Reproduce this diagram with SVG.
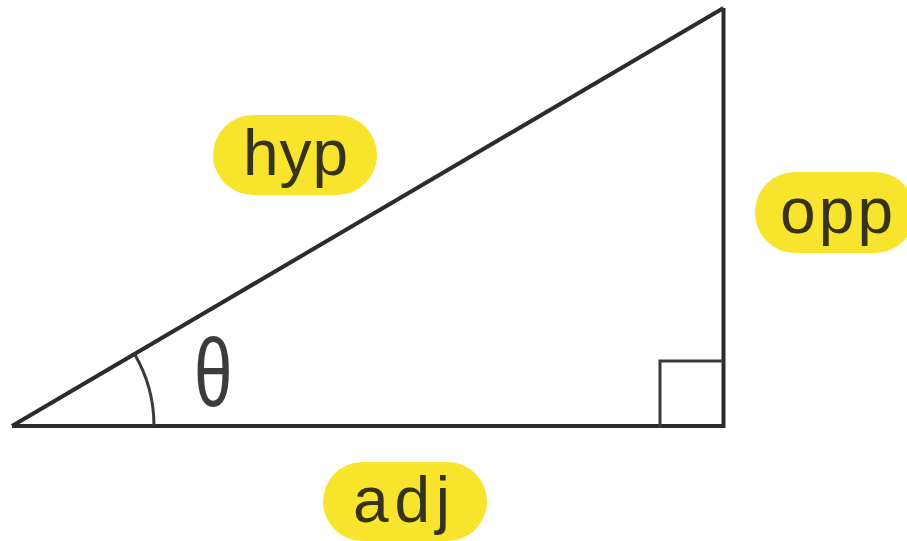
<svg xmlns="http://www.w3.org/2000/svg" width="907" height="541" viewBox="0 0 907 541">
<style>
.edge{stroke:#2b2b2b;stroke-width:4;fill:none;stroke-linecap:butt}
.thin{stroke:#3a3a3a;stroke-width:3;fill:none}
.pill{fill:#F8E42C}
.lbl{font-family:"Liberation Sans",Arial,sans-serif;font-size:64px;fill:#35331a}
.theta{font-family:"Liberation Sans",Arial,sans-serif;font-size:96px;fill:#3c3c3c}
</style>
<rect width="907" height="541" fill="#ffffff"/>
<g id="connectors">
<line class="edge" x1="12" y1="426" x2="725" y2="426"/>
<line class="edge" x1="723.5" y1="8" x2="723.5" y2="428"/>
<line class="edge" x1="12" y1="426" x2="723.5" y2="8"/>
<polyline class="thin" points="660,428 660,361 723,361"/>
<path class="thin" d="M 154 426 A 142 142 0 0 0 134.5 354.1"/>
</g>
<g id="theta">
<text class="theta" transform="translate(194,406) scale(0.72,1)">θ</text>
</g>
<g id="hyp">
<rect class="pill" x="213" y="115" width="164" height="80" rx="40"/>
<text class="lbl" x="243" y="175" textLength="105">hyp</text>
</g>
<g id="opp">
<rect class="pill" x="755" y="172" width="160" height="81" rx="40"/>
<text class="lbl" x="780" y="233" textLength="113">opp</text>
</g>
<g id="adj">
<rect class="pill" x="323" y="462" width="164" height="79" rx="39.5"/>
<text class="lbl" x="353" y="522" textLength="97">adj</text>
</g>
</svg>
